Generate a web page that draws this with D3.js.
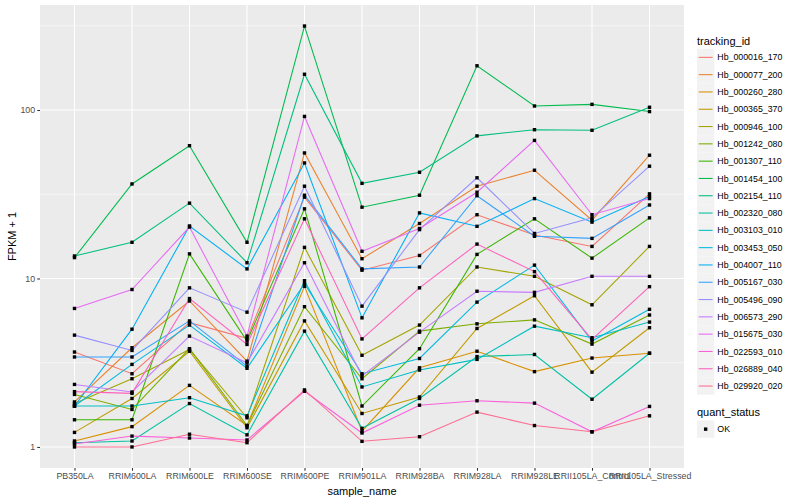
<!DOCTYPE html>
<html><head><meta charset="utf-8">
<script src="https://cdn.jsdelivr.net/npm/d3@7"></script>
<style>body{margin:0;background:#fff}svg{display:block;font-family:"Liberation Sans",Arial,sans-serif}</style>
</head><body><svg id="c" width="800" height="500"></svg>
<script>
const samples = ["PB350LA","RRIM600LA","RRIM600LE","RRIM600SE","RRIM600PE","RRIM901LA","RRIM928BA","RRIM928LA","RRIM928LE","RRII105LA_Control","RRII105LA_Stressed"];
const trackingIds = ["Hb_000016_170","Hb_000077_200","Hb_000260_280","Hb_000365_370","Hb_000946_100","Hb_001242_080","Hb_001307_110","Hb_001454_100","Hb_002154_110","Hb_002320_080","Hb_003103_010","Hb_003453_050","Hb_004007_110","Hb_005167_030","Hb_005496_090","Hb_006573_290","Hb_015675_030","Hb_022593_010","Hb_026889_040","Hb_029920_020"];
const colors = ["#F8766D","#EA8331","#D89000","#C09B00","#A3A500","#7CAE00","#39B600","#00BB4E","#00BF7D","#00C1A3","#00BFC4","#00BAE0","#00B0F6","#35A2FF","#9590FF","#C77CFF","#E76BF3","#FA62DB","#FF62BC","#FF6C91"];
// FPKM + 1 values per tracking id, in sample order
const s01 = [3.66, 2.72, 5.47, 4.41, 30.4, 11.2, 13.7, 23.9, 18.1, 15.5, 31.8];
const s02 = [1.85, 3.88, 7.35, 3.23, 55.6, 13.1, 21.2, 35.3, 43.9, 22.2, 53.9];
const s03 = [1.085, 1.32, 2.32, 1.34, 8.98, 1.24, 2.95, 3.70, 2.80, 3.37, 3.6];
const s04 = [1.22, 1.94, 3.70, 1.30, 5.6, 1.58, 1.98, 5.05, 7.9, 2.78, 5.1];
const s05 = [1.81, 2.54, 3.79, 1.49, 15.3, 3.50, 5.29, 11.7, 10.3, 6.98, 15.5];
const s06 = [2.05, 1.67, 3.83, 1.34, 6.8, 2.54, 4.87, 5.38, 5.68, 4.08, 6.07];
const s07 = [1.45, 1.45, 14.0, 4.25, 25.9, 1.75, 3.83, 13.9, 22.6, 13.2, 22.9];
const s08 = [13.3, 36.4, 61.4, 16.4, 315, 26.5, 31.2, 183, 105.6, 108, 97.9];
const s09 = [13.6, 16.4, 28, 12.4, 163, 36.7, 42.7, 70.2, 76.4, 75.8, 103.8];
const s10 = [1.06, 1.085, 1.81, 1.18, 4.87, 1.29, 1.94, 3.44, 3.54, 1.92, 3.6];
const s11 = [1.75, 1.75, 1.96, 1.53, 9.7, 2.27, 2.86, 3.31, 5.21, 4.45, 5.51];
const s12 = [1.75, 3.09, 5.29, 2.93, 9.3, 2.72, 3.35, 7.24, 12.0, 4.25, 6.56];
const s13 = [1.75, 5.0, 20.5, 11.4, 48.5, 5.84, 24.5, 20.4, 29.8, 21.6, 30.7];
const s14 = [3.42, 3.42, 5.6, 3.02, 31.2, 11.4, 11.7, 31.0, 17.8, 17.3, 27.3];
const s15 = [4.61, 3.74, 8.8, 6.31, 35.3, 6.85, 19.5, 39.6, 18.5, 22.9, 46.4];
const s16 = [2.35, 2.12, 4.55, 3.16, 12.4, 2.64, 4.8, 8.4, 8.27, 10.3, 10.3];
const s17 = [6.64, 8.6, 20.2, 4.55, 91.6, 14.5, 19.8, 32.5, 66, 23.9, 29.8];
const s18 = [1.04, 1.16, 1.13, 1.10, 2.14, 1.21, 1.77, 1.88, 1.82, 1.23, 1.74];
const s19 = [2.13, 2.08, 7.6, 4.06, 22.6, 4.38, 8.8, 16.0, 10.98, 4.35, 8.94];
const s20 = [1.0, 1.0, 1.19, 1.06, 2.18, 1.08, 1.15, 1.61, 1.34, 1.23, 1.53];
const seriesValues = [s01,s02,s03,s04,s05,s06,s07,s08,s09,s10,s11,s12,s13,s14,s15,s16,s17,s18,s19,s20];
const yTicks = [1, 10, 100];
const yMinor = [Math.sqrt(10), Math.sqrt(1000), Math.sqrt(100000)];
const quantStatus = ["OK"];

const svg = d3.select("#c");
const P = {l: 40, r: 684, t: 5, b: 468};
svg.append("rect").attr("x", P.l).attr("y", P.t).attr("width", P.r - P.l).attr("height", P.b - P.t).attr("fill", "#EBEBEB");

const all = seriesValues.flat();
const lmin = Math.log10(d3.min(all)), lmax = Math.log10(d3.max(all));
const ex = (lmax - lmin) * 0.05;
const y = d3.scaleLog().domain([Math.pow(10, lmin - ex), Math.pow(10, lmax + ex)]).range([P.b, P.t]);
const x = d3.scalePoint().domain(samples).range([P.l, P.r]).padding(0.6);

const g = svg.append("g");
g.selectAll(".ymin").data(yMinor).join("line").attr("x1", P.l).attr("x2", P.r)
  .attr("y1", d => y(d)).attr("y2", d => y(d)).attr("stroke", "#fff").attr("stroke-width", 0.53);
g.selectAll(".ymaj").data(yTicks).join("line").attr("x1", P.l).attr("x2", P.r)
  .attr("y1", d => y(d)).attr("y2", d => y(d)).attr("stroke", "#fff").attr("stroke-width", 1.07);
g.selectAll(".xmaj").data(samples).join("line").attr("y1", P.t).attr("y2", P.b)
  .attr("x1", d => x(d)).attr("x2", d => x(d)).attr("stroke", "#fff").attr("stroke-width", 1.07);

const line = d3.line().x((d, i) => x(samples[i])).y(d => y(d));
seriesValues.forEach((vals, k) => {
  svg.append("path").datum(vals).attr("d", line).attr("fill", "none")
    .attr("stroke", colors[k]).attr("stroke-width", 1.07);
});
seriesValues.forEach((vals) => {
  svg.append("g").selectAll("rect").data(vals).join("rect")
    .attr("x", (d, i) => x(samples[i]) - 1.7).attr("y", d => y(d) - 1.7)
    .attr("width", 3.4).attr("height", 3.4).attr("fill", "#000");
});

// axes
const yAxis = d3.axisLeft(y).tickValues(yTicks).tickFormat(d3.format("d")).tickSize(2.75).tickPadding(2.2);
const ya = svg.append("g").attr("transform", `translate(${P.l},0)`).call(yAxis);
const xAxis = d3.axisBottom(x).tickSize(2.75).tickPadding(2.2);
const xa = svg.append("g").attr("transform", `translate(0,${P.b})`).call(xAxis);
[ya, xa].forEach(a => {
  a.select(".domain").remove();
  a.selectAll(".tick line").attr("stroke", "#333").attr("stroke-width", 1.07);
  a.selectAll(".tick text").attr("fill", "#4D4D4D").style("font-size", "8.8px").style("font-family", "'Liberation Sans', Arial, sans-serif");
});

svg.append("text").attr("x", (P.l + P.r) / 2).attr("y", 495).attr("text-anchor", "middle")
  .style("font-size", "11px").text("sample_name");
svg.append("text").attr("transform", `translate(12.5,${(P.t + P.b) / 2}) rotate(-90)`).attr("text-anchor", "middle")
  .attr("dy", "0.35em").style("font-size", "11px").text("FPKM + 1");

// legend
const L = {x: 697, key: 17.3};
svg.append("text").attr("x", L.x).attr("y", 45).style("font-size", "11px").text("tracking_id");
const lg = svg.append("g").selectAll("g").data(trackingIds).join("g")
  .attr("transform", (d, i) => `translate(${L.x},${48.7 + i * L.key})`);
lg.append("rect").attr("width", L.key).attr("height", L.key).attr("fill", "#F2F2F2");
lg.append("line").attr("x1", 1.7).attr("x2", L.key - 1.7).attr("y1", L.key / 2).attr("y2", L.key / 2)
  .attr("stroke", (d, i) => colors[i]).attr("stroke-width", 1.07);
lg.append("text").attr("x", L.key + 3).attr("y", L.key / 2).attr("dy", "0.35em")
  .style("font-size", "8.8px").text(d => d);

svg.append("text").attr("x", L.x).attr("y", 416).style("font-size", "11px").text("quant_status");
const qg = svg.append("g").selectAll("g").data(quantStatus).join("g")
  .attr("transform", (d, i) => `translate(${L.x},${420.5 + i * L.key})`);
qg.append("rect").attr("width", L.key).attr("height", L.key).attr("fill", "#F2F2F2");
qg.append("rect").attr("x", L.key / 2 - 1.7).attr("y", L.key / 2 - 1.7).attr("width", 3.4).attr("height", 3.4).attr("fill", "#000");
qg.append("text").attr("x", L.key + 3).attr("y", L.key / 2).attr("dy", "0.35em").style("font-size", "8.8px").text(d => d);
</script></body></html>
